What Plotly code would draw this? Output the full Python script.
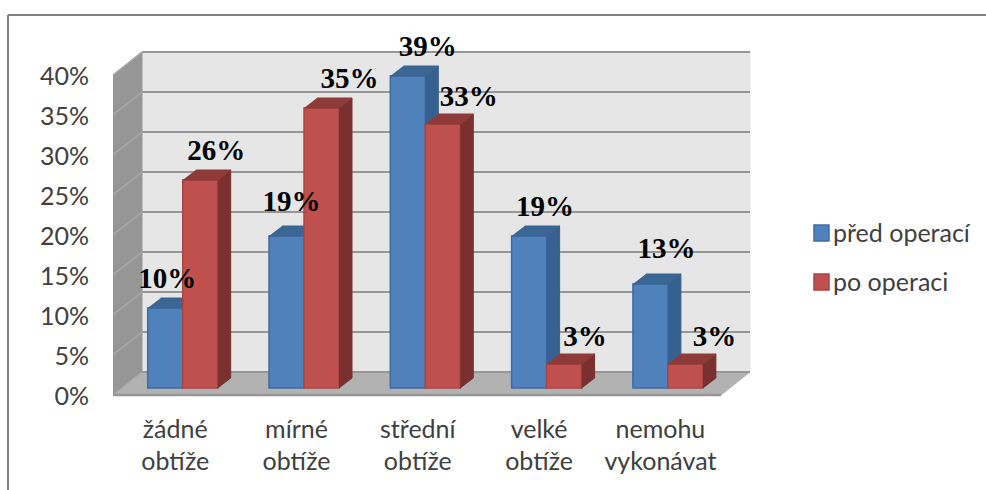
import plotly.graph_objects as go

# Survey results: share of patients per difficulty level, before and after surgery
categories_line1 = ["žádné", "mírné", "střední", "velké", "nemohu"]
categories_line2 = ["obtíže", "obtíže", "obtíže", "obtíže", "vykonávat"]
pred_operaci = [10, 19, 39, 19, 13]
po_operaci = [26, 35, 33, 3, 3]
y_ticks = [0, 5, 10, 15, 20, 25, 30, 35, 40]
series_names = ["před operací", "po operaci"]

W, H = 986, 490
CAT_PX = 121.3      # distance between category groups
PCT_PX = 8.0        # height of one percentage point
ORIGIN_X = 182.7    # pixel x of the first group's centre
BAR_BASE = 388      # pixel y of the bars' front base
WALL_BASE = 395     # pixel y of the chart box's front floor edge

BAR_W = 35 / CAT_PX
BAR_DX = 13 / CAT_PX
BAR_DY = 10 / PCT_PX
WALL_DX = 29 / CAT_PX
WALL_DY = 23 / PCT_PX
WALL_L = (113 - ORIGIN_X) / CAT_PX
WALL_R = (721 - ORIGIN_X) / CAT_PX
TOP = y_ticks[-1]

GRID = "#969696"
SANS = "Lato"
TEXT = "#404040"

fig = go.Figure()


def poly(xs, ys, fill, yaxis="y", line=None):
    fig.add_trace(go.Scatter(
        x=xs, y=ys, mode="lines", fill="toself", fillcolor=fill, yaxis=yaxis,
        line=dict(color=line or fill, width=1), hoverinfo="skip", showlegend=False,
    ))


# Chart box: back wall, side wall and floor
poly([WALL_L + WALL_DX, WALL_R + WALL_DX, WALL_R + WALL_DX, WALL_L + WALL_DX],
     [WALL_DY, WALL_DY, TOP + WALL_DY, TOP + WALL_DY], "#e6e6e6")
poly([WALL_L, WALL_L + WALL_DX, WALL_L + WALL_DX, WALL_L],
     [0, WALL_DY, TOP + WALL_DY, TOP], "#969696")
poly([WALL_L, WALL_R, WALL_R + WALL_DX, WALL_L + WALL_DX],
     [0, 0, WALL_DY, WALL_DY], "#b2b2b2")

# Gridlines run along the side wall and across the back wall
for t in y_ticks:
    fig.add_trace(go.Scatter(
        x=[WALL_L, WALL_L + WALL_DX], y=[t, t + WALL_DY], mode="lines",
        line=dict(color="#a9a9a9", width=1.5), hoverinfo="skip", showlegend=False,
    ))
    fig.add_trace(go.Scatter(
        x=[WALL_L + WALL_DX, WALL_R + WALL_DX], y=[t + WALL_DY, t + WALL_DY], mode="lines",
        line=dict(color=GRID, width=2), hoverinfo="skip", showlegend=False,
    ))
fig.add_trace(go.Scatter(
    x=[WALL_L, WALL_R], y=[0, 0], mode="lines",
    line=dict(color=GRID, width=2.5), hoverinfo="skip", showlegend=False,
))


def bars(values, offset, name, yaxis, front, edge, side, top):
    fig.add_trace(go.Bar(
        x=list(range(len(values))), y=values, width=BAR_W, offset=offset, name=name,
        yaxis=yaxis, marker=dict(color=front, line=dict(color=edge, width=1.5)),
        showlegend=False,
    ))
    for i, v in enumerate(values):
        x0 = i + offset
        x1 = x0 + BAR_W
        poly([x1, x1 + BAR_DX, x1 + BAR_DX, x1],
             [0, BAR_DY, v + BAR_DY, v], side, yaxis)
        poly([x0, x1, x1 + BAR_DX, x0 + BAR_DX],
             [v, v, v + BAR_DY, v + BAR_DY], top, yaxis)


bars(pred_operaci, -BAR_W, series_names[0], "y2", "#4f81bd", "#3f6ca3", "#36608f", "#3b6593")
bars(po_operaci, 0, series_names[1], "y3", "#c0504d", "#a94543", "#7a302e", "#8e3a38")

# Value labels sit above each bar, nudged sideways to stay readable
label_dx_pred = [2, 5, 20, 16, 16]
label_dy_pred = [27, 32, 27, 27, 33]
label_dx_po = [16, 28, 26, 21, 29]
label_dy_po = [27, 27, 25, 25, 25]
for values, centre, dxs, dys in (
    (pred_operaci, -BAR_W / 2, label_dx_pred, label_dy_pred),
    (po_operaci, BAR_W / 2, label_dx_po, label_dy_po),
):
    fig.add_trace(go.Scatter(
        x=[i + centre + dx / CAT_PX for i, dx in enumerate(dxs)],
        y=[v + dy / PCT_PX for v, dy in zip(values, dys)],
        mode="text", text=[f"{v}%" for v in values], yaxis="y3",
        textfont=dict(family="Liberation Serif", size=29, color="#000000", weight="bold"),
        hoverinfo="skip", showlegend=False,
    ))

# The second line of the category labels lives on its own axis, which needs a trace to be drawn
fig.add_trace(go.Scatter(x=[None], y=[None], xaxis="x2", mode="lines",
                         hoverinfo="skip", showlegend=False))

x_range = [-ORIGIN_X / CAT_PX, (W - ORIGIN_X) / CAT_PX]
bar_y_range = [-(H - BAR_BASE) / PCT_PX, BAR_BASE / PCT_PX]
wall_y_range = [-(H - WALL_BASE) / PCT_PX, WALL_BASE / PCT_PX]
label_ticks = [i - 7.5 / CAT_PX for i in range(len(categories_line1))]
y_label_ticks = [t - 1.5 / PCT_PX for t in y_ticks]
tick_font = dict(family=SANS, size=25, color=TEXT)
px_x = lambda p: p / W
px_y = lambda p: 1 - p / H

# Frame around the chart
shapes = [
    dict(type="line", xref="paper", yref="paper", x0=px_x(8), x1=1, y0=px_y(15), y1=px_y(15),
         line=dict(color="#808080", width=2)),
    dict(type="line", xref="paper", yref="paper", x0=px_x(8), x1=px_x(8), y0=px_y(15), y1=0,
         line=dict(color="#808080", width=2)),
]

# Legend, placed to the right of the chart box
annotations = []
legend_rows = [(series_names[0], 233, "#4f81bd", "#3f6ca3"), (series_names[1], 282, "#c0504d", "#a94543")]
for name, yc, fill, edge in legend_rows:
    shapes.append(dict(type="rect", xref="paper", yref="paper",
                       x0=px_x(814), x1=px_x(829), y0=px_y(yc - 8), y1=px_y(yc + 8),
                       fillcolor=fill, line=dict(color=edge, width=1.5)))
    annotations.append(dict(xref="paper", yref="paper", x=px_x(830.5), y=px_y(yc - 1),
                            xanchor="left", yanchor="middle", showarrow=False, text=name,
                            font=dict(family=SANS, size=25, color=TEXT)))

fig.update_layout(
    width=W, height=H, margin=dict(l=0, r=0, t=0, b=0),
    paper_bgcolor="white", plot_bgcolor="white",
    barmode="overlay", showlegend=False,
    shapes=shapes, annotations=annotations,
    xaxis=dict(range=x_range, anchor="free", position=px_y(412), tickmode="array",
               tickvals=label_ticks, ticktext=categories_line1, tickfont=tick_font,
               showgrid=False, zeroline=False, showline=False, ticks="", fixedrange=True),
    xaxis2=dict(range=x_range, anchor="free", position=px_y(444), overlaying="x", tickmode="array",
                tickvals=label_ticks, ticktext=categories_line2, tickfont=tick_font,
                showgrid=False, zeroline=False, showline=False, ticks="", fixedrange=True),
    yaxis=dict(range=wall_y_range, anchor="free", position=px_x(89), tickmode="array",
               tickvals=y_label_ticks, ticktext=[f"{t}%" for t in y_ticks], tickfont=tick_font,
               showgrid=False, zeroline=False, showline=False, ticks="", fixedrange=True),
    yaxis2=dict(range=bar_y_range, overlaying="y", visible=False, fixedrange=True),
    yaxis3=dict(range=bar_y_range, overlaying="y", visible=False, fixedrange=True),
)

fig.write_html("out.html")
